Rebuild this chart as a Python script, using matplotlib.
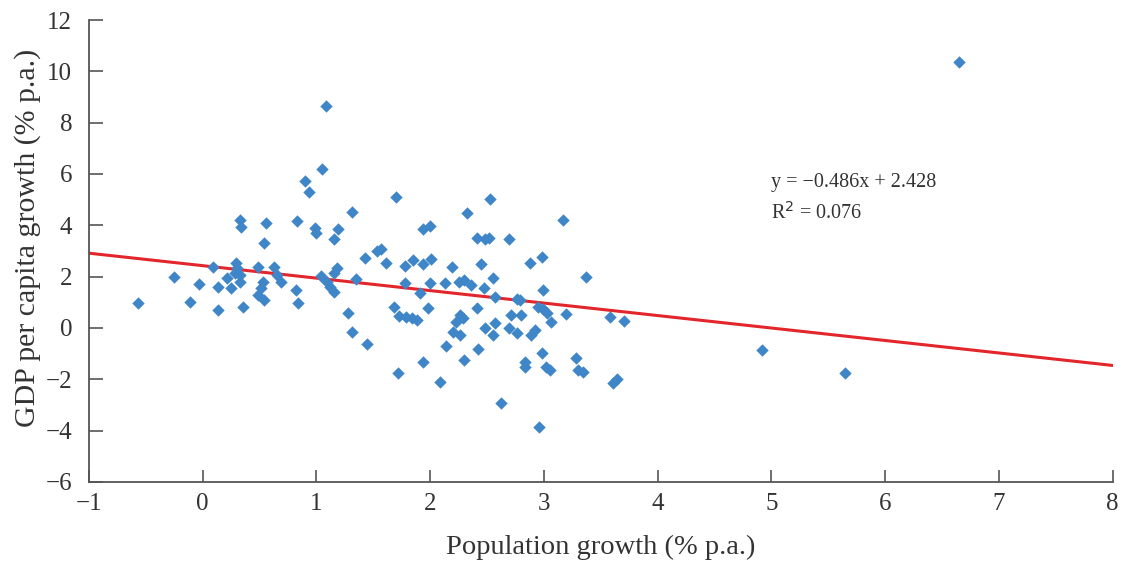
import numpy as np
import matplotlib.pyplot as plt

plt.rcParams['font.family'] = ['Liberation Serif', 'DejaVu Serif']

# population growth (% p.a.) and GDP per capita growth (% p.a.)
pop = [-0.57, -0.25, -0.11, -0.03, 0.09, 0.13, 0.13, 0.21, 0.25, 0.29, 0.30, 0.325, 0.28, 0.33,
       0.35, 0.33, 0.34, 0.49, 0.53, 0.51, 0.49, 0.54, 0.54, 0.56, 0.63, 0.65, 0.69, 0.82, 0.84,
       0.83, 0.90, 0.935, 0.985, 1.0,
       1.05, 1.08, 1.04, 1.09, 1.12, 1.15, 1.18, 1.15, 1.15, 1.19, 1.28, 1.31, 1.31, 1.35, 1.43,
       1.445, 1.53, 1.57, 1.61, 1.70, 1.68, 1.73, 1.79, 1.84, 1.88, 1.72, 1.78, 1.85, 1.94, 2.01,
       1.78, 1.91, 1.94, 2.0, 1.98, 1.94, 2.0,
       2.09, 2.14, 2.13, 2.19, 2.25, 2.30, 2.36, 2.26, 2.29, 2.23, 2.20, 2.26, 2.30, 2.32, 2.41,
       2.48, 2.52, 2.41, 2.42, 2.45, 2.47, 2.48, 2.55, 2.57, 2.53, 2.55, 2.57, 2.62, 2.69, 2.69,
       2.76, 2.71, 2.80, 2.76, 2.79, 2.83, 2.83, 2.88, 2.92, 2.89, 2.95, 2.99, 3.03, 2.98, 2.99,
       2.96, 2.98, 3.02, 3.05, 3.06,
       3.17, 3.19, 3.28, 3.30, 3.34, 3.37, 3.58, 3.70, 3.61, 3.64, 4.92, 5.65, 6.65]
gdp = [0.96, 2.0, 1.03, 1.71, 2.39, 1.61, 0.70, 1.94, 1.55, 2.52, 2.32, 2.06, 2.13, 1.81,
       0.80, 4.2, 3.95, 2.36, 1.81, 1.55, 1.29, 1.09, 3.32, 4.08, 2.36, 2.06, 1.81, 1.48, 0.96,
       4.15, 5.74, 5.28, 3.88, 3.69,
       6.19, 8.65, 2.03, 1.81, 1.61, 1.41, 2.32, 2.13, 3.45, 3.84, 0.57, -0.14, 4.52, 1.89, 2.71,
       -0.64, 3.0, 3.07, 2.55, 5.09, 0.83, 0.48, 0.44, 0.38, 0.31, -1.77, 2.42, 2.65, 2.49, 2.68,
       1.77, 1.38, 3.84, 3.97, 0.79, -1.31, 1.74,
       -2.09, -0.70, 1.77, 2.39, 1.81, 1.87, 1.67, 0.51, 0.38, 0.25, -0.14, -0.27, -1.25, 4.47, 3.49,
       3.45, 3.52, 0.77, -0.83, 2.49, 1.55, -0.01, -0.27, 0.18, 5.01, 1.94, 1.19, -2.93, 3.45, -0.01,
       -0.21, 0.51, 0.51, 1.12, 1.09, -1.31, -1.51, 2.52, -0.08, -0.27, 0.83, 0.73, 0.60, 2.78, 1.48,
       -3.84, -0.99, -1.51, -1.64, 0.25,
       4.19, 0.53, -1.18, -1.64, -1.73, 2.0, 0.44, 0.27, -2.16, -2.0, -0.86, -1.75, 10.36]

slope = -0.486
intercept = 2.428
r2 = 0.076

fig = plt.figure(figsize=(11.25, 5.67), dpi=100)
ax = fig.add_axes([0.0791, 0.15, 0.9099, 0.8147])

ax.scatter(pop, gdp, marker='D', s=40, color='#3f86c9', linewidths=0, zorder=3)

xl = np.array([-1, 8])
ax.plot(xl, slope * xl + intercept, color='#e3262b', lw=2.2, zorder=2)

ax.text(5.0, 5.65, 'y = \u22120.486x + 2.428', fontsize=14.5, color='#333333', va='center')
ax.text(5.0, 4.5, 'R$^2$ = 0.076', fontsize=14.5, color='#333333', va='center')

ax.set_xlim(-1, 8)
ax.set_ylim(-6, 12)
ax.set_xticks(range(-1, 9))
ax.set_yticks(range(-6, 13, 2))
ax.set_xticklabels([str(v).replace('-', '\u2212') for v in range(-1, 9)])
ax.set_yticklabels([str(v).replace('-', '\u2212') for v in range(-6, 13, 2)])

for s in ['top', 'right']:
    ax.spines[s].set_visible(False)
for s in ['left', 'bottom']:
    ax.spines[s].set_color('#555555')
    ax.spines[s].set_linewidth(1.3)

ax.tick_params(axis='y', direction='in', length=10, width=1.2, color='#555555',
               labelsize=18, labelcolor='#333333', pad=12)
ax.tick_params(axis='x', direction='in', length=9, width=1.2, color='#555555',
               labelsize=18, labelcolor='#333333', pad=8)

ax.set_xlabel('Population growth (% p.a.)', fontsize=20.5, color='#333333', labelpad=14)
ax.set_ylabel('GDP per capita growth (% p.a.)', fontsize=21.5, color='#333333')
ax.yaxis.set_label_coords(-0.047, 0.528)

plt.savefig('out.png')
